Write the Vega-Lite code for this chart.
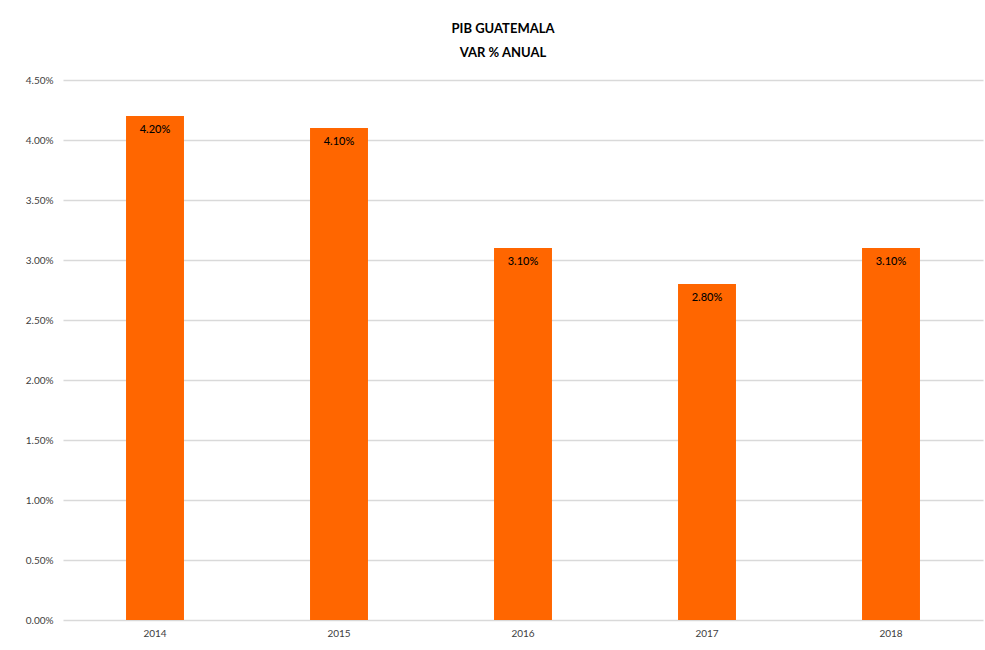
{
  "$schema": "https://vega.github.io/schema/vega-lite/v6.json",
  "width": 920,
  "height": 540,
  "autosize": {"type": "none"},
  "padding": {"left": 63, "top": 80, "right": 2, "bottom": 30},
  "background": "white",
  "config": {"view": {"stroke": null}, "font": "Lato"},
  "title": {
    "text": ["PIB GUATEMALA", "VAR % ANUAL"],
    "fontSize": 13,
    "fontWeight": "bold",
    "font": "Lato",
    "color": "#000000",
    "lineHeight": 24,
    "offset": 15,
    "anchor": "middle",
    "dx": -20
  },
  "data": {
    "values": [
      {"year": "2014", "value": 0.042},
      {"year": "2015", "value": 0.041},
      {"year": "2016", "value": 0.031},
      {"year": "2017", "value": 0.028},
      {"year": "2018", "value": 0.031}
    ]
  },
  "encoding": {
    "x": {
      "field": "year",
      "type": "nominal",
      "sort": null,
      "scale": {"paddingInner": 0.685, "paddingOuter": 0.3425},
      "axis": {
        "title": null,
        "labelAngle": 0,
        "labelFontSize": 10,
        "labelColor": "#404040",
        "labelPadding": 8,
        "domain": false,
        "ticks": false
      }
    },
    "y": {
      "field": "value",
      "type": "quantitative",
      "scale": {"domain": [0, 0.045], "nice": false},
      "axis": {
        "title": null,
        "format": ".2%",
        "values": [0, 0.005, 0.01, 0.015, 0.02, 0.025, 0.03, 0.035, 0.04, 0.045],
        "labelFontSize": 10,
        "labelColor": "#404040",
        "labelPadding": 10,
        "domain": false,
        "ticks": false,
        "gridColor": "#d9d9d9",
        "gridWidth": 1.5
      }
    }
  },
  "layer": [
    {"mark": {"type": "bar", "color": "#FF6600"}},
    {
      "mark": {"type": "text", "baseline": "top", "dy": 8, "fontSize": 11, "fontWeight": 500, "color": "#000000"},
      "encoding": {"text": {"field": "value", "format": ".2%"}}
    }
  ]
}
